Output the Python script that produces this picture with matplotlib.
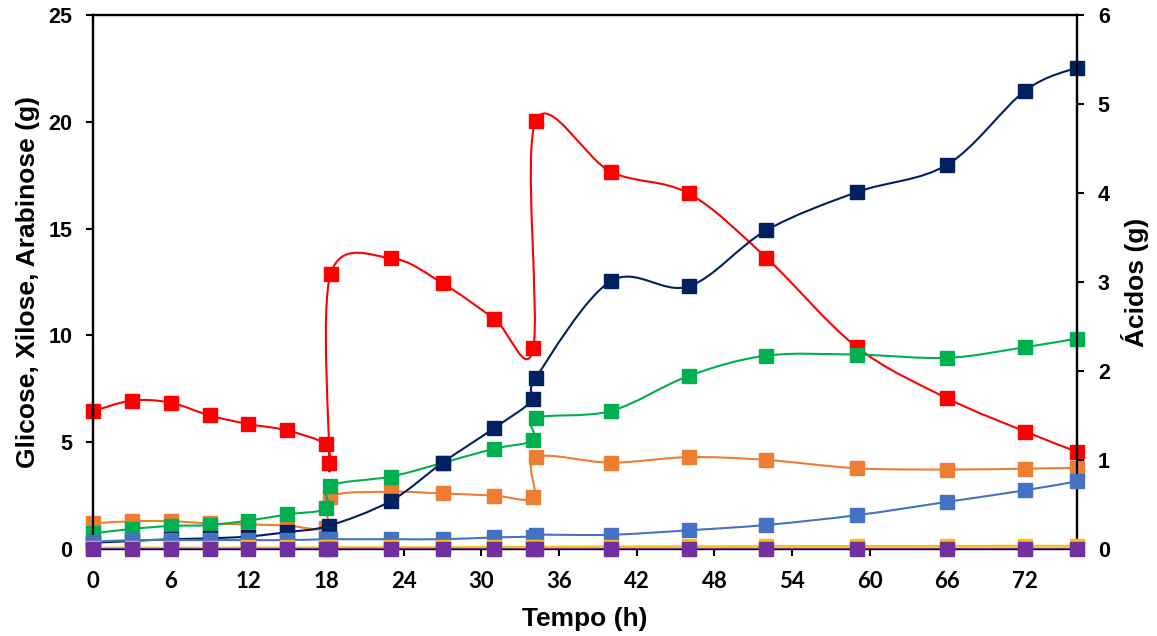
import numpy as np
import matplotlib
matplotlib.use("Agg")
import matplotlib.pyplot as plt
from matplotlib.path import Path
from matplotlib.patches import PathPatch

# ---------------------------------------------------------------------------
# data (time in h)
# ---------------------------------------------------------------------------

# sugars, left axis (g)
t_red = [0, 3, 6, 9, 12, 15, 18, 18.25, 18.35, 23, 27, 31, 34, 34.2, 40, 46, 52, 59, 66, 72, 76]
red = [6.45, 6.95, 6.85, 6.25, 5.85, 5.55, 4.9, 4.04, 12.87, 13.62, 12.44, 10.77, 9.39, 20.05,
       17.66, 16.65, 13.64, 9.45, 7.05, 5.5, 4.55]

t_sug = [0, 3, 6, 9, 12, 15, 18, 18.3, 23, 27, 31, 34, 34.2, 40, 46, 52, 59, 66, 72, 76]
orange = [1.2, 1.3, 1.3, 1.2, 1.15, 1.1, 1.0, 2.45, 2.68, 2.6, 2.5, 2.42, 4.29, 4.04, 4.3,
          4.17, 3.78, 3.72, 3.76, 3.8]
green = [0.73, 0.94, 1.08, 1.12, 1.33, 1.62, 1.9, 2.96, 3.39, 4.03, 4.7, 5.1, 6.13, 6.46,
         8.1, 9.05, 9.1, 8.95, 9.45, 9.85]

# acids, right axis (g)
t_navy = [0, 3, 6, 9, 12, 15, 18.2, 23, 27, 31, 34, 34.2, 40, 46, 52, 59, 66, 72, 76]
navy = [0.07, 0.09, 0.11, 0.12, 0.14, 0.19, 0.26, 0.54, 0.97, 1.36, 1.68, 1.92, 3.01, 2.95,
        3.58, 4.01, 4.32, 5.15, 5.41]
blue = [0.08, 0.1, 0.1, 0.1, 0.1, 0.1, 0.11, 0.11, 0.11, 0.11, 0.13, 0.14, 0.16, 0.16,
        0.21, 0.27, 0.38, 0.53, 0.66, 0.76]
yellow = [0.015, 0.015, 0.015, 0.015, 0.017, 0.017, 0.018, 0.02, 0.02, 0.02, 0.022, 0.022,
          0.025, 0.028, 0.03, 0.032, 0.033, 0.034, 0.035, 0.035]
purple = [0.0] * 20

xticks = list(range(0, 73, 6))

RED, ORANGE, GREEN = "#FF0000", "#ED7D31", "#00B050"
NAVY, BLUE, YELLOW, PURPLE = "#002060", "#4472C4", "#FFC000", "#7030A0"


def smooth_series(ax, x, y, color, z):
    """Excel-like smoothed line (Catmull-Rom as cubic Bezier) plus square markers."""
    x = np.asarray(x, float)
    y = np.asarray(y, float)
    px = np.concatenate([[x[0]], x, [x[-1]]])
    py = np.concatenate([[y[0]], y, [y[-1]]])
    verts = [(x[0], y[0])]
    codes = [Path.MOVETO]
    for i in range(len(x) - 1):
        p0 = np.array([px[i], py[i]])
        p1 = np.array([px[i + 1], py[i + 1]])
        p2 = np.array([px[i + 2], py[i + 2]])
        p3 = np.array([px[i + 3], py[i + 3]])
        c1 = p1 + (p2 - p0) / 6
        c2 = p2 - (p3 - p1) / 6
        verts += [tuple(c1), tuple(c2), tuple(p2)]
        codes += [Path.CURVE4] * 3
    ax.add_patch(PathPatch(Path(verts, codes), fill=False, edgecolor=color,
                           lw=1.5, zorder=z, capstyle="round"))
    ax.plot(x, y, ls="none", marker="s", ms=10.5, color=color, mec=color,
            zorder=z + 0.5, clip_on=False)


fig = plt.figure(figsize=(11.57, 6.36), dpi=100)
ax = fig.add_axes([0.0804, 0.1368, 0.8504, 0.8396])
ax2 = ax.twinx()

smooth_series(ax, t_red, red, RED, 2)
smooth_series(ax, t_sug, orange, ORANGE, 3)
smooth_series(ax, t_sug, green, GREEN, 5)

smooth_series(ax2, t_navy, navy, NAVY, 2)
smooth_series(ax2, t_sug, blue, BLUE, 6)
smooth_series(ax2, t_sug, yellow, YELLOW, 7)
smooth_series(ax2, t_sug, purple, PURPLE, 8)

ax.set_xlim(0, 76)
ax.set_ylim(0, 25)
ax2.set_ylim(0, 6)
ax.set_xticks(xticks)
ax.set_yticks(range(0, 26, 5))
ax2.set_yticks(range(0, 7))

for a in (ax, ax2):
    for s in a.spines.values():
        s.set_linewidth(1.6)
        s.set_color("black")
    a.tick_params(direction="out", length=5, width=1.5, color="black")

ax.tick_params(axis="y", labelsize=15.5, pad=10)
ax2.tick_params(axis="y", labelsize=15.5, pad=10)
ax.tick_params(axis="x", labelsize=16, pad=11)
for lab in ax.get_yticklabels() + ax2.get_yticklabels():
    lab.set_fontfamily("Liberation Sans")
    lab.set_fontweight("bold")
for lab in ax.get_xticklabels():
    lab.set_fontfamily("Lato")
    lab.set_fontweight("bold")

ax.set_xlabel("Tempo (h)", fontsize=19, fontweight="bold", family="Liberation Sans", labelpad=11)
ax.set_ylabel("Glicose, Xilose, Arabinose (g)", fontsize=19, fontweight="bold",
              family="Liberation Sans", labelpad=6)
ax2.set_ylabel("Ácidos (g)", fontsize=19, fontweight="bold", family="Liberation Sans",
               labelpad=8)

fig.savefig("out.png", dpi=100)
